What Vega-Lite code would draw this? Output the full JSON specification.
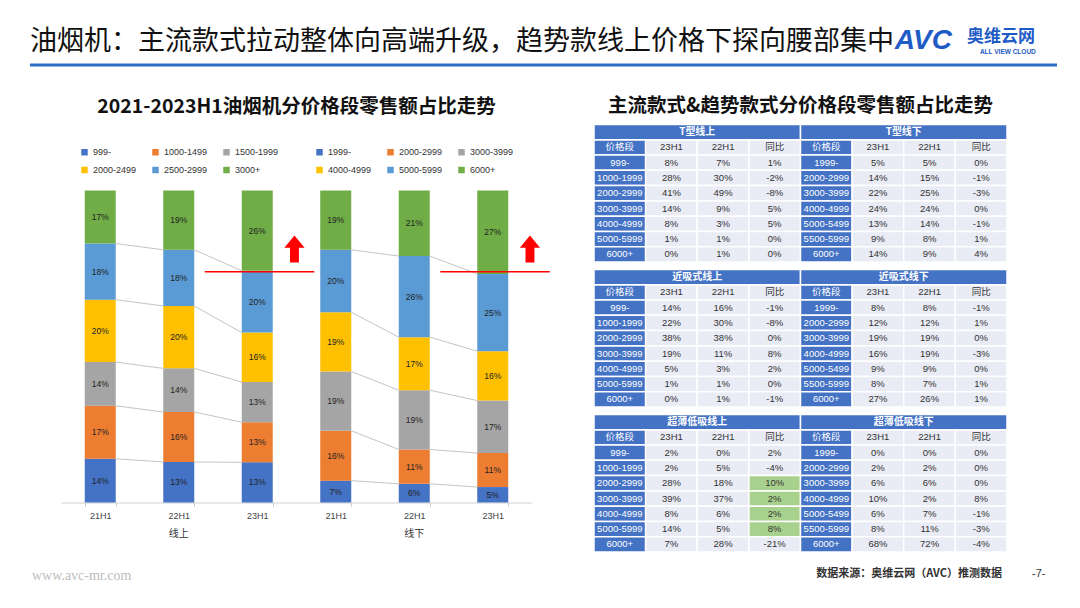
{
  "$schema": "https://vega.github.io/schema/vega-lite/v6.json",
  "background": "white",
  "padding": {"left": 28, "top": 26, "right": 10, "bottom": 8},
  "config": {"view": {"stroke": null}, "font": "Noto Sans CJK SC", "title": {"font": "Noto Sans CJK SC"}},
  "datasets": {
    "bars": [
      {"group": "线上", "period": "21H1", "key": "线上|21H1", "seg": "999-", "tier": 1, "value": 14},
      {"group": "线上", "period": "21H1", "key": "线上|21H1", "seg": "1000-1499", "tier": 2, "value": 17},
      {"group": "线上", "period": "21H1", "key": "线上|21H1", "seg": "1500-1999", "tier": 3, "value": 14},
      {"group": "线上", "period": "21H1", "key": "线上|21H1", "seg": "2000-2499", "tier": 4, "value": 20},
      {"group": "线上", "period": "21H1", "key": "线上|21H1", "seg": "2500-2999", "tier": 5, "value": 18},
      {"group": "线上", "period": "21H1", "key": "线上|21H1", "seg": "3000+", "tier": 6, "value": 17},
      {"group": "线上", "period": "22H1", "key": "线上|22H1", "seg": "999-", "tier": 1, "value": 13},
      {"group": "线上", "period": "22H1", "key": "线上|22H1", "seg": "1000-1499", "tier": 2, "value": 16},
      {"group": "线上", "period": "22H1", "key": "线上|22H1", "seg": "1500-1999", "tier": 3, "value": 14},
      {"group": "线上", "period": "22H1", "key": "线上|22H1", "seg": "2000-2499", "tier": 4, "value": 20},
      {"group": "线上", "period": "22H1", "key": "线上|22H1", "seg": "2500-2999", "tier": 5, "value": 18},
      {"group": "线上", "period": "22H1", "key": "线上|22H1", "seg": "3000+", "tier": 6, "value": 19},
      {"group": "线上", "period": "23H1", "key": "线上|23H1", "seg": "999-", "tier": 1, "value": 13},
      {"group": "线上", "period": "23H1", "key": "线上|23H1", "seg": "1000-1499", "tier": 2, "value": 13},
      {"group": "线上", "period": "23H1", "key": "线上|23H1", "seg": "1500-1999", "tier": 3, "value": 13},
      {"group": "线上", "period": "23H1", "key": "线上|23H1", "seg": "2000-2499", "tier": 4, "value": 16},
      {"group": "线上", "period": "23H1", "key": "线上|23H1", "seg": "2500-2999", "tier": 5, "value": 20},
      {"group": "线上", "period": "23H1", "key": "线上|23H1", "seg": "3000+", "tier": 6, "value": 26},
      {"group": "线下", "period": "21H1", "key": "线下|21H1", "seg": "1999-", "tier": 1, "value": 7},
      {"group": "线下", "period": "21H1", "key": "线下|21H1", "seg": "2000-2999", "tier": 2, "value": 16},
      {"group": "线下", "period": "21H1", "key": "线下|21H1", "seg": "3000-3999", "tier": 3, "value": 19},
      {"group": "线下", "period": "21H1", "key": "线下|21H1", "seg": "4000-4999", "tier": 4, "value": 19},
      {"group": "线下", "period": "21H1", "key": "线下|21H1", "seg": "5000-5999", "tier": 5, "value": 20},
      {"group": "线下", "period": "21H1", "key": "线下|21H1", "seg": "6000+", "tier": 6, "value": 19},
      {"group": "线下", "period": "22H1", "key": "线下|22H1", "seg": "1999-", "tier": 1, "value": 6},
      {"group": "线下", "period": "22H1", "key": "线下|22H1", "seg": "2000-2999", "tier": 2, "value": 11},
      {"group": "线下", "period": "22H1", "key": "线下|22H1", "seg": "3000-3999", "tier": 3, "value": 19},
      {"group": "线下", "period": "22H1", "key": "线下|22H1", "seg": "4000-4999", "tier": 4, "value": 17},
      {"group": "线下", "period": "22H1", "key": "线下|22H1", "seg": "5000-5999", "tier": 5, "value": 26},
      {"group": "线下", "period": "22H1", "key": "线下|22H1", "seg": "6000+", "tier": 6, "value": 21},
      {"group": "线下", "period": "23H1", "key": "线下|23H1", "seg": "1999-", "tier": 1, "value": 5},
      {"group": "线下", "period": "23H1", "key": "线下|23H1", "seg": "2000-2999", "tier": 2, "value": 11},
      {"group": "线下", "period": "23H1", "key": "线下|23H1", "seg": "3000-3999", "tier": 3, "value": 17},
      {"group": "线下", "period": "23H1", "key": "线下|23H1", "seg": "4000-4999", "tier": 4, "value": 16},
      {"group": "线下", "period": "23H1", "key": "线下|23H1", "seg": "5000-5999", "tier": 5, "value": 25},
      {"group": "线下", "period": "23H1", "key": "线下|23H1", "seg": "6000+", "tier": 6, "value": 27}
    ],
    "tables": [
      {"kind": "title", "tbl": "T型", "row": "t", "half": "L", "title": "T型线上"},
      {"kind": "title", "tbl": "T型", "row": "t", "half": "R", "title": "T型线下"},
      {"kind": "cells", "tbl": "T型", "row": "h", "seg_L": "价格段", "a_L": "23H1", "b_L": "22H1", "c_L": "同比", "seg_R": "价格段", "a_R": "23H1", "b_R": "22H1", "c_R": "同比"},
      {"kind": "cells", "tbl": "T型", "row": "1", "seg_L": "999-", "a_L": "8%", "b_L": "7%", "c_L": "1%", "seg_R": "1999-", "a_R": "5%", "b_R": "5%", "c_R": "0%"},
      {"kind": "cells", "tbl": "T型", "row": "2", "seg_L": "1000-1999", "a_L": "28%", "b_L": "30%", "c_L": "-2%", "seg_R": "2000-2999", "a_R": "14%", "b_R": "15%", "c_R": "-1%"},
      {"kind": "cells", "tbl": "T型", "row": "3", "seg_L": "2000-2999", "a_L": "41%", "b_L": "49%", "c_L": "-8%", "seg_R": "3000-3999", "a_R": "22%", "b_R": "25%", "c_R": "-3%"},
      {"kind": "cells", "tbl": "T型", "row": "4", "seg_L": "3000-3999", "a_L": "14%", "b_L": "9%", "c_L": "5%", "seg_R": "4000-4999", "a_R": "24%", "b_R": "24%", "c_R": "0%"},
      {"kind": "cells", "tbl": "T型", "row": "5", "seg_L": "4000-4999", "a_L": "8%", "b_L": "3%", "c_L": "5%", "seg_R": "5000-5499", "a_R": "13%", "b_R": "14%", "c_R": "-1%"},
      {"kind": "cells", "tbl": "T型", "row": "6", "seg_L": "5000-5999", "a_L": "1%", "b_L": "1%", "c_L": "0%", "seg_R": "5500-5999", "a_R": "9%", "b_R": "8%", "c_R": "1%"},
      {"kind": "cells", "tbl": "T型", "row": "7", "seg_L": "6000+", "a_L": "0%", "b_L": "1%", "c_L": "0%", "seg_R": "6000+", "a_R": "14%", "b_R": "9%", "c_R": "4%"},
      {"kind": "title", "tbl": "近吸式", "row": "t", "half": "L", "title": "近吸式线上"},
      {"kind": "title", "tbl": "近吸式", "row": "t", "half": "R", "title": "近吸式线下"},
      {"kind": "cells", "tbl": "近吸式", "row": "h", "seg_L": "价格段", "a_L": "23H1", "b_L": "22H1", "c_L": "同比", "seg_R": "价格段", "a_R": "23H1", "b_R": "22H1", "c_R": "同比"},
      {"kind": "cells", "tbl": "近吸式", "row": "1", "seg_L": "999-", "a_L": "14%", "b_L": "16%", "c_L": "-1%", "seg_R": "1999-", "a_R": "8%", "b_R": "8%", "c_R": "-1%"},
      {"kind": "cells", "tbl": "近吸式", "row": "2", "seg_L": "1000-1999", "a_L": "22%", "b_L": "30%", "c_L": "-8%", "seg_R": "2000-2999", "a_R": "12%", "b_R": "12%", "c_R": "1%"},
      {"kind": "cells", "tbl": "近吸式", "row": "3", "seg_L": "2000-2999", "a_L": "38%", "b_L": "38%", "c_L": "0%", "seg_R": "3000-3999", "a_R": "19%", "b_R": "19%", "c_R": "0%"},
      {"kind": "cells", "tbl": "近吸式", "row": "4", "seg_L": "3000-3999", "a_L": "19%", "b_L": "11%", "c_L": "8%", "seg_R": "4000-4999", "a_R": "16%", "b_R": "19%", "c_R": "-3%"},
      {"kind": "cells", "tbl": "近吸式", "row": "5", "seg_L": "4000-4999", "a_L": "5%", "b_L": "3%", "c_L": "2%", "seg_R": "5000-5499", "a_R": "9%", "b_R": "9%", "c_R": "0%"},
      {"kind": "cells", "tbl": "近吸式", "row": "6", "seg_L": "5000-5999", "a_L": "1%", "b_L": "1%", "c_L": "0%", "seg_R": "5500-5999", "a_R": "8%", "b_R": "7%", "c_R": "1%"},
      {"kind": "cells", "tbl": "近吸式", "row": "7", "seg_L": "6000+", "a_L": "0%", "b_L": "1%", "c_L": "-1%", "seg_R": "6000+", "a_R": "27%", "b_R": "26%", "c_R": "1%"},
      {"kind": "title", "tbl": "超薄低吸", "row": "t", "half": "L", "title": "超薄低吸线上"},
      {"kind": "title", "tbl": "超薄低吸", "row": "t", "half": "R", "title": "超薄低吸线下"},
      {"kind": "cells", "tbl": "超薄低吸", "row": "h", "seg_L": "价格段", "a_L": "23H1", "b_L": "22H1", "c_L": "同比", "seg_R": "价格段", "a_R": "23H1", "b_R": "22H1", "c_R": "同比"},
      {"kind": "cells", "tbl": "超薄低吸", "row": "1", "seg_L": "999-", "a_L": "2%", "b_L": "0%", "c_L": "2%", "seg_R": "1999-", "a_R": "0%", "b_R": "0%", "c_R": "0%"},
      {"kind": "cells", "tbl": "超薄低吸", "row": "2", "seg_L": "1000-1999", "a_L": "2%", "b_L": "5%", "c_L": "-4%", "seg_R": "2000-2999", "a_R": "2%", "b_R": "2%", "c_R": "0%"},
      {"kind": "cells", "tbl": "超薄低吸", "row": "3", "hl": "c_L", "seg_L": "2000-2999", "a_L": "28%", "b_L": "18%", "c_L": "10%", "seg_R": "3000-3999", "a_R": "6%", "b_R": "6%", "c_R": "0%"},
      {"kind": "cells", "tbl": "超薄低吸", "row": "4", "hl": "c_L", "seg_L": "3000-3999", "a_L": "39%", "b_L": "37%", "c_L": "2%", "seg_R": "4000-4999", "a_R": "10%", "b_R": "2%", "c_R": "8%"},
      {"kind": "cells", "tbl": "超薄低吸", "row": "5", "hl": "c_L", "seg_L": "4000-4999", "a_L": "8%", "b_L": "6%", "c_L": "2%", "seg_R": "5000-5499", "a_R": "6%", "b_R": "7%", "c_R": "-1%"},
      {"kind": "cells", "tbl": "超薄低吸", "row": "6", "hl": "c_L", "seg_L": "5000-5999", "a_L": "14%", "b_L": "5%", "c_L": "8%", "seg_R": "5500-5999", "a_R": "8%", "b_R": "11%", "c_R": "-3%"},
      {"kind": "cells", "tbl": "超薄低吸", "row": "7", "seg_L": "6000+", "a_L": "7%", "b_L": "28%", "c_L": "-21%", "seg_R": "6000+", "a_R": "68%", "b_R": "72%", "c_R": "-4%"}
    ]
  },
  "spacing": 13.5,
  "vconcat": [
    {
      "width": 1001,
      "height": 53,
      "layer": [
        {
          "data": {"values": [{"t": "油烟机：主流款式拉动整体向高端升级，趋势款线上价格下探向腰部集中"}]},
          "mark": {"type": "text", "align": "left", "baseline": "middle", "fontSize": 27, "fill": "#111"},
          "encoding": {
            "x": {"datum": -0.031, "type": "quantitative", "scale": {"domain": [0, 1]}, "axis": null},
            "y": {"datum": 0.755, "type": "quantitative", "scale": {"domain": [0, 1]}, "axis": null},
            "text": {"field": "t"}
          }
        },
        {
          "data": {"values": [{"t": "AVC"}]},
          "mark": {"type": "text", "align": "left", "baseline": "middle", "fontSize": 28, "fontStyle": "italic", "fontWeight": "bold", "font": "Liberation Sans", "fill": "#1f5bc6"},
          "encoding": {
            "x": {"datum": 0.833, "type": "quantitative", "scale": {"domain": [0, 1]}, "axis": null},
            "y": {"datum": 0.774, "type": "quantitative", "scale": {"domain": [0, 1]}, "axis": null},
            "text": {"field": "t"}
          }
        },
        {
          "data": {"values": [{"t": "奥维云网"}]},
          "mark": {"type": "text", "align": "left", "baseline": "middle", "fontSize": 17, "fontWeight": "bold", "fill": "#1f5bc6"},
          "encoding": {
            "x": {"datum": 0.905, "type": "quantitative", "scale": {"domain": [0, 1]}, "axis": null},
            "y": {"datum": 0.849, "type": "quantitative", "scale": {"domain": [0, 1]}, "axis": null},
            "text": {"field": "t"}
          }
        },
        {
          "data": {"values": [{"t": "ALL VIEW CLOUD"}]},
          "mark": {"type": "text", "align": "left", "baseline": "middle", "fontSize": 6.5, "fontWeight": "bold", "font": "Liberation Sans", "fill": "#1f5bc6"},
          "encoding": {
            "x": {"datum": 0.918, "type": "quantitative", "scale": {"domain": [0, 1]}, "axis": null},
            "y": {"datum": 0.56, "type": "quantitative", "scale": {"domain": [0, 1]}, "axis": null},
            "text": {"field": "t"}
          }
        },
        {
          "data": {"values": [{}]},
          "mark": {"type": "rule", "color": "#2e6fc6", "strokeWidth": 3},
          "encoding": {
            "x": {"datum": -0.031, "type": "quantitative", "scale": {"domain": [0, 1]}, "axis": null},
            "x2": {"datum": 0.995},
            "y": {"datum": 0.321, "type": "quantitative", "scale": {"domain": [0, 1]}, "axis": null}
          }
        }
      ]
    },
    {
      "spacing": 42,
      "hconcat": [
        {
          "title": {"text": "2021-2023H1油烟机分价格段零售额占比走势", "fontSize": 19.5, "fontWeight": "bold", "color": "#111", "frame": "group", "anchor": "middle", "offset": 7},
          "width": 471,
          "height": 378,
          "data": {"name": "bars"},
          "layer": [
            {
              "layer": [
                {
                  "transform": [{"filter": "datum.group == '线上'"}],
                  "mark": {"type": "bar"},
                  "encoding": {
                    "x": {"field": "key", "type": "nominal", "title": null,
                      "scale": {"type": "band", "domain": ["线上|21H1", "线上|22H1", "线上|23H1", "线下|21H1", "线下|22H1", "线下|23H1"], "paddingInner": 0.605, "paddingOuter": 0.3025},
                      "axis": {"title": null, "labelExpr": "split(datum.label, '|')[1]", "labelAngle": 0, "labelFontSize": 9, "labelFont": "Liberation Sans", "labelColor": "#444", "domainColor": "#d0d0d0", "tickColor": "#d0d0d0", "tickSize": 4, "tickBand": "extent", "labelPadding": 5}},
                    "y": {"field": "value", "type": "quantitative", "stack": "normalize", "scale": {"domain": [0, 1.2116], "nice": false}, "axis": null},
                    "color": {"field": "seg", "type": "nominal",
                      "scale": {"domain": ["999-", "1000-1499", "1500-1999", "2000-2499", "2500-2999", "3000+"], "range": ["#4472c4", "#ed7d31", "#a5a5a5", "#ffc000", "#5b9bd5", "#70ad47"]},
                      "legend": {"orient": "none", "legendX": 19, "legendY": 23, "direction": "horizontal", "columns": 3, "title": null, "symbolType": "square", "symbolSize": 42, "symbolStrokeWidth": 0, "labelFontSize": 9, "labelFont": "Liberation Sans", "labelColor": "#333", "columnPadding": 14, "rowPadding": 8, "labelOffset": 4}},
                    "order": {"field": "tier", "type": "quantitative"}
                  }
                },
                {
                  "transform": [{"filter": "datum.group == '线下'"}],
                  "mark": {"type": "bar"},
                  "encoding": {
                    "x": {"field": "key", "type": "nominal", "title": null},
                    "y": {"field": "value", "type": "quantitative", "stack": "normalize", "axis": null},
                    "color": {"field": "seg", "type": "nominal",
                      "scale": {"domain": ["1999-", "2000-2999", "3000-3999", "4000-4999", "5000-5999", "6000+"], "range": ["#4472c4", "#ed7d31", "#a5a5a5", "#ffc000", "#5b9bd5", "#70ad47"]},
                      "legend": {"orient": "none", "legendX": 254, "legendY": 23, "direction": "horizontal", "columns": 3, "title": null, "symbolType": "square", "symbolSize": 42, "symbolStrokeWidth": 0, "labelFontSize": 9, "labelFont": "Liberation Sans", "labelColor": "#333", "columnPadding": 14, "rowPadding": 8, "labelOffset": 4}},
                    "order": {"field": "tier", "type": "quantitative"}
                  }
                },
                {
                  "transform": [
                    {"joinaggregate": [{"op": "sum", "field": "value", "as": "total"}], "groupby": ["key"]},
                    {"window": [{"op": "sum", "field": "value", "as": "cum"}], "groupby": ["key"], "sort": [{"field": "tier"}], "frame": [null, 0]},
                    {"calculate": "datum.cum / datum.total", "as": "cn"},
                    {"window": [{"op": "lead", "field": "cn", "as": "cnNext"}, {"op": "lead", "field": "key", "as": "keyNext"}], "groupby": ["group", "tier"], "sort": [{"field": "period"}], "frame": [null, null]},
                    {"filter": "datum.tier < 6 && datum.keyNext != null"}
                  ],
                  "mark": {"type": "rule", "color": "#c4c4c4", "strokeWidth": 1},
                  "encoding": {
                    "x": {"field": "key", "type": "nominal", "bandPosition": 1, "title": null},
                    "x2": {"field": "keyNext", "bandPosition": 0},
                    "y": {"field": "cn", "type": "quantitative", "axis": null},
                    "y2": {"field": "cnNext"}
                  }
                },
                {
                  "transform": [
                    {"joinaggregate": [{"op": "sum", "field": "value", "as": "total"}], "groupby": ["key"]},
                    {"window": [{"op": "sum", "field": "value", "as": "cum"}], "groupby": ["key"], "sort": [{"field": "tier"}], "frame": [null, 0]},
                    {"calculate": "(datum.cum - datum.value / 2) / datum.total", "as": "mid"},
                    {"calculate": "datum.value + '%'", "as": "lbl"}
                  ],
                  "mark": {"type": "text", "fontSize": 8.5, "font": "Liberation Sans", "fill": "#222"},
                  "encoding": {
                    "x": {"field": "key", "type": "nominal", "title": null},
                    "y": {"field": "mid", "type": "quantitative", "axis": null},
                    "text": {"field": "lbl"}
                  }
                },
                {
                  "data": {"values": [{"k0": "线上|22H1", "k1": "线上|23H1"}, {"k0": "线下|22H1", "k1": "线下|23H1"}]},
                  "mark": {"type": "rule", "color": "#ff0000", "strokeWidth": 1.5},
                  "encoding": {
                    "x": {"field": "k0", "type": "nominal", "bandPosition": 1.34, "title": null},
                    "x2": {"field": "k1", "bandPosition": 2.34},
                    "y": {"datum": 0.74, "type": "quantitative", "axis": null}
                  }
                },
                {
                  "data": {"values": [{"k": "线上|23H1"}, {"k": "线下|23H1"}]},
                  "mark": {"type": "point", "filled": true, "opacity": 1, "color": "#ff0000", "strokeWidth": 0, "size": 729,
                    "shape": "M0,-1L0.75,-0.1L0.33,-0.1L0.33,1L-0.33,1L-0.33,-0.1L-0.75,-0.1Z"},
                  "encoding": {
                    "x": {"field": "k", "type": "nominal", "bandPosition": 1.7, "title": null},
                    "y": {"datum": 0.8125, "type": "quantitative", "axis": null}
                  }
                }
              ],
              "resolve": {"scale": {"color": "independent"}}
            },
            {
              "data": {"values": [{"grp": "线上"}, {"grp": "线下"}]},
              "mark": {"type": "point", "opacity": 0},
              "encoding": {
                "x": {"field": "grp", "type": "nominal", "scale": {"type": "band", "domain": ["线上", "线下"], "paddingInner": 0, "paddingOuter": 0},
                  "axis": {"orient": "bottom", "offset": 24, "domain": false, "ticks": false, "labelFontSize": 10, "labelColor": "#333", "labelPadding": 2, "title": null, "labelAngle": 0}}
              }
            }
          ],
          "resolve": {"scale": {"x": "independent"}}
        },
        {
          "title": {"text": "主流款式&趋势款式分价格段零售额占比走势", "fontSize": 19.5, "fontWeight": "bold", "color": "#111", "frame": "bounds", "anchor": "middle", "offset": 7},
          "data": {"name": "tables"},
          "facet": {"row": {"field": "tbl", "type": "nominal", "sort": ["T型", "近吸式", "超薄低吸"], "header": null}},
          "spacing": {"row": 5},
          "spec": {
            "width": 413,
            "height": 137.5,
            "layer": [
              {
                "transform": [{"filter": "datum.kind == 'cells'"}, {"fold": ["seg_L", "a_L", "b_L", "c_L", "seg_R", "a_R", "b_R", "c_R"], "as": ["col", "txt"]}],
                "mark": {"type": "rect", "stroke": "white", "strokeWidth": 1.5},
                "encoding": {
                  "x": {"field": "col", "type": "nominal", "scale": {"type": "band", "domain": ["seg_L", "a_L", "b_L", "c_L", "seg_R", "a_R", "b_R", "c_R"], "paddingInner": 0, "paddingOuter": 0}, "axis": null},
                  "y": {"field": "row", "type": "nominal", "scale": {"type": "band", "domain": ["t", "h", "1", "2", "3", "4", "5", "6", "7"], "paddingInner": 0, "paddingOuter": 0}, "axis": null},
                  "fill": {"condition": [{"test": "datum.col == 'seg_L' || datum.col == 'seg_R'", "value": "#4472c4"}, {"test": "datum.hl == datum.col", "value": "#a9d18e"}], "value": "#e9ebf5"}
                }
              },
              {
                "transform": [{"filter": "datum.kind == 'cells'"}, {"fold": ["seg_L", "a_L", "b_L", "c_L", "seg_R", "a_R", "b_R", "c_R"], "as": ["col", "txt"]}],
                "mark": {"type": "text", "fontSize": 9.5, "font": "Liberation Sans, Noto Sans CJK SC"},
                "encoding": {
                  "x": {"field": "col", "type": "nominal", "scale": {"type": "band", "domain": ["seg_L", "a_L", "b_L", "c_L", "seg_R", "a_R", "b_R", "c_R"], "paddingInner": 0, "paddingOuter": 0}, "axis": null},
                  "y": {"field": "row", "type": "nominal", "scale": {"type": "band", "domain": ["t", "h", "1", "2", "3", "4", "5", "6", "7"], "paddingInner": 0, "paddingOuter": 0}, "axis": null},
                  "text": {"field": "txt"},
                  "fill": {"condition": {"test": "datum.col == 'seg_L' || datum.col == 'seg_R'", "value": "white"}, "value": "#333"}
                }
              },
              {
                "transform": [{"filter": "datum.kind == 'title'"}],
                "mark": {"type": "rect", "fill": "#4472c4", "stroke": "white", "strokeWidth": 1.5},
                "encoding": {
                  "x": {"field": "half", "type": "nominal", "scale": {"type": "band", "domain": ["L", "R"], "paddingInner": 0, "paddingOuter": 0}, "axis": null},
                  "y": {"field": "row", "type": "nominal", "scale": {"type": "band", "domain": ["t", "h", "1", "2", "3", "4", "5", "6", "7"], "paddingInner": 0, "paddingOuter": 0}, "axis": null}
                }
              },
              {
                "transform": [{"filter": "datum.kind == 'title'"}],
                "mark": {"type": "text", "fontSize": 10, "fontWeight": "bold", "fill": "white"},
                "encoding": {
                  "x": {"field": "half", "type": "nominal", "scale": {"type": "band", "domain": ["L", "R"], "paddingInner": 0, "paddingOuter": 0}, "axis": null},
                  "y": {"field": "row", "type": "nominal", "scale": {"type": "band", "domain": ["t", "h", "1", "2", "3", "4", "5", "6", "7"], "paddingInner": 0, "paddingOuter": 0}, "axis": null},
                  "text": {"field": "title"}
                }
              }
            ],
            "resolve": {"scale": {"x": "independent"}}
          }
        }
      ]
    },
    {
      "width": 1001,
      "height": 14,
      "layer": [
        {
          "data": {"values": [{"t": "www.avc-mr.com"}]},
          "mark": {"type": "text", "align": "left", "baseline": "middle", "fontSize": 14, "font": "Liberation Serif", "fill": "#bdbdbd"},
          "encoding": {
            "x": {"datum": -0.029, "type": "quantitative", "scale": {"domain": [0, 1]}, "axis": null},
            "y": {"datum": 0.42, "type": "quantitative", "scale": {"domain": [0, 1]}, "axis": null},
            "text": {"field": "t"}
          }
        },
        {
          "data": {"values": [{"t": "数据来源：奥维云网（AVC）推测数据"}]},
          "mark": {"type": "text", "align": "right", "baseline": "middle", "fontSize": 11, "fontWeight": "bold", "fill": "#333"},
          "encoding": {
            "x": {"datum": 0.94, "type": "quantitative", "scale": {"domain": [0, 1]}, "axis": null},
            "y": {"datum": 0.607, "type": "quantitative", "scale": {"domain": [0, 1]}, "axis": null},
            "text": {"field": "t"}
          }
        },
        {
          "data": {"values": [{"t": "-7-"}]},
          "mark": {"type": "text", "align": "left", "baseline": "middle", "fontSize": 11, "font": "Liberation Sans", "fill": "#333"},
          "encoding": {
            "x": {"datum": 0.97, "type": "quantitative", "scale": {"domain": [0, 1]}, "axis": null},
            "y": {"datum": 0.607, "type": "quantitative", "scale": {"domain": [0, 1]}, "axis": null},
            "text": {"field": "t"}
          }
        }
      ]
    }
  ]
}
